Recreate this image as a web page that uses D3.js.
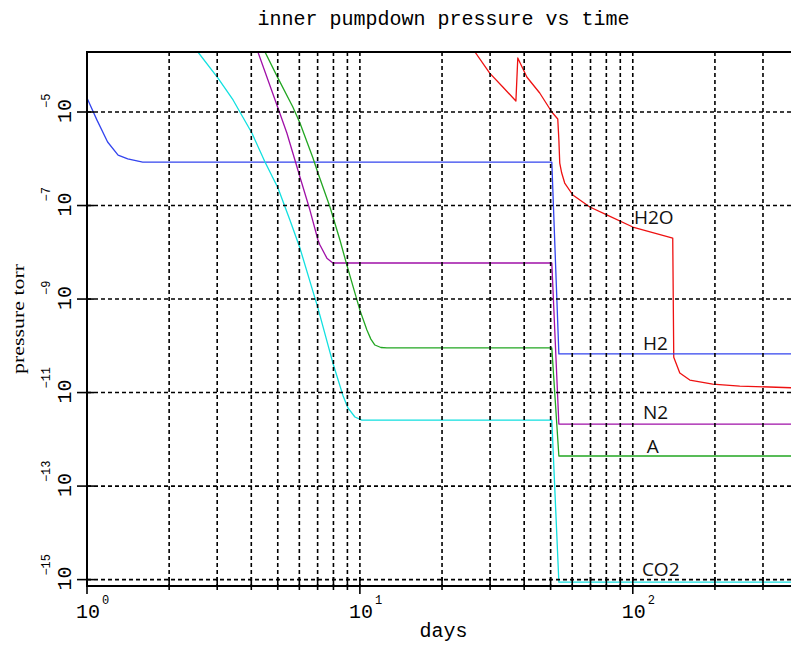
<!DOCTYPE html>
<html>
<head>
<meta charset="utf-8">
<script src="https://cdn.jsdelivr.net/npm/d3@7"></script>
<style>
  body { margin: 0; background: #fff; }
  svg { display: block; }
</style>
</head>
<body>
<script>
// readings: days and pressure (torr)
let daysH2O = [26.4, 29.9, 33.4, 37.3, 37.9, 40.9, 45.6, 50.5, 53.1, 53.6, 54.0, 54.9, 56.3, 60.3, 69.6, 80.3, 100, 140.1, 141.3, 148.7, 161.8, 196.3, 246.6, 410];
let pH2O = [1.92e-4, 6.8e-5, 3.43e-5, 1.72e-5, 1.43e-4, 5.6e-5, 2.55e-5, 1.0e-5, 7.1e-6, 2.52e-6, 8.1e-7, 4.95e-7, 3.03e-7, 1.68e-7, 9.3e-8, 6.3e-8, 3.47e-8, 2.02e-8, 5.7e-11, 2.61e-11, 1.85e-11, 1.52e-11, 1.38e-11, 1.25e-11];

let daysH2 = [1.0, 1.088, 1.19, 1.30, 1.41, 1.60, 50.5, 53.6, 410];
let pH2 = [2.0e-5, 6.7e-6, 2.28e-6, 1.20e-6, 9.9e-7, 8.5e-7, 8.5e-7, 6.7e-11, 6.7e-11];

let daysN2 = [4.23, 5.01, 5.40, 5.78, 6.03, 6.56, 7.02, 7.14, 7.57, 7.96, 8.96, 50.5, 53.6, 410];
let pN2 = [1.92e-4, 1.22e-5, 3.55e-6, 9.4e-7, 4.07e-7, 8.0e-8, 1.83e-8, 1.43e-8, 7.5e-9, 5.9e-9, 5.9e-9, 5.9e-9, 2.12e-12, 2.12e-12];

let daysA = [4.49, 5.01, 5.68, 6.03, 6.73, 7.02, 7.77, 8.45, 8.96, 10.0, 10.61, 10.97, 11.35, 11.94, 12.56, 50.5, 53.6, 410];
let pA = [1.92e-4, 5.3e-5, 1.28e-5, 5.8e-6, 1.04e-6, 4.95e-7, 9.3e-8, 1.83e-8, 5.3e-9, 5.8e-10, 2.17e-10, 1.39e-10, 1.04e-10, 9.2e-11, 9.0e-11, 9.0e-11, 4.4e-13, 4.4e-13];

let daysCO2 = [2.55, 3.02, 3.43, 4.02, 4.49, 5.01, 5.54, 6.03, 7.02, 7.96, 8.66, 9.04, 9.59, 10.17, 50.5, 53.6, 410];
let pCO2 = [1.92e-4, 5.3e-5, 1.81e-5, 3.55e-6, 8.5e-7, 2.37e-7, 4.9e-8, 1.23e-8, 6.4e-10, 4.3e-11, 8.8e-12, 4.7e-12, 3.0e-12, 2.58e-12, 2.58e-12, 8.8e-16, 8.8e-16];

let gasNames = ["H2O", "H2", "N2", "A", "CO2"];
let labelDays = [101, 109, 109, 112.5, 108];
let labelP = [4.0e-8, 8.1e-11, 2.71e-12, 5.1e-13, 1.19e-15];

let xMajor = [1, 10, 100];
let xGrid = [2, 3, 4, 5, 6, 7, 8, 9, 10, 20, 30, 40, 50, 60, 70, 80, 90, 100, 200, 300];
let yMajor = [1e-5, 1e-7, 1e-9, 1e-11, 1e-13, 1e-15];
let yExp = ["\u22125", "\u22127", "\u22129", "\u221211", "\u221213", "\u221215"];

let gasColors = ["#ee1111", "#3344ee", "#a010a8", "#22a622", "#11e0e0"];
let allDays = [daysH2O, daysH2, daysN2, daysA, daysCO2];
let allP = [pH2O, pH2, pN2, pA, pCO2];

let W = 791, H = 648;
let pLeft = 87, pRight = 800, pTop = 52, pBottom = 586;

let svg = d3.select("body")
            .append("svg")
            .attr("width", W)
            .attr("height", H);

let x = d3.scaleLog().domain([1, 410]).range([pLeft, pRight]);
let y = d3.scaleLog().domain([7.3e-16, 1.92e-4]).range([pBottom, pTop]);

svg.append("clipPath").attr("id", "plotclip")
   .append("rect")
   .attr("x", pLeft).attr("y", pTop)
   .attr("width", pRight - pLeft).attr("height", pBottom - pTop);

// curves
let line = d3.line().x(d => x(d[0])).y(d => y(d[1]));
let curves = svg.append("g").attr("clip-path", "url(#plotclip)");
allDays.forEach(function(ds, i) {
    let pts = ds.map((d, j) => [d, allP[i][j]]);
    curves.append("path")
          .attr("d", line(pts))
          .attr("fill", "none")
          .attr("stroke", gasColors[i])
          .attr("stroke-width", 1.3)
          .attr("stroke-linejoin", "round");
});

// dashed grid
let grid = svg.append("g")
              .attr("stroke", "#000")
              .attr("stroke-width", 1.6)
              .attr("stroke-dasharray", "4,3");
grid.selectAll("line.v")
    .data(xGrid)
    .enter()
    .append("line")
    .attr("x1", d => x(d)).attr("x2", d => x(d))
    .attr("y1", pTop).attr("y2", pBottom);
grid.selectAll("line.h")
    .data(yMajor)
    .enter()
    .append("line")
    .attr("x1", pLeft).attr("x2", pRight)
    .attr("y1", d => y(d)).attr("y2", d => y(d));

// frame
svg.append("path")
   .attr("d", `M${pRight},${pTop}H${pLeft}V${pBottom}H${pRight}`)
   .attr("fill", "none")
   .attr("stroke", "#000")
   .attr("stroke-width", 2);

// ticks
let ticks = svg.append("g").attr("stroke", "#000").attr("stroke-width", 1.6);
ticks.selectAll("line.xt")
     .data(xGrid.concat([1]))
     .enter()
     .append("line")
     .attr("x1", d => x(d)).attr("x2", d => x(d))
     .attr("y1", pBottom - 9)
     .attr("y2", d => xMajor.includes(d) ? pBottom + 8 : pBottom + 4);
ticks.selectAll("line.yt")
     .data(yMajor)
     .enter()
     .append("line")
     .attr("x1", pLeft - 10).attr("x2", pLeft + 7)
     .attr("y1", d => y(d)).attr("y2", d => y(d));

let mono = "'Liberation Mono', 'DejaVu Sans Mono', monospace";

// x tick labels
xMajor.forEach(function(d, i) {
    svg.append("text")
       .attr("x", x(d) - 11)
       .attr("y", 618)
       .attr("font-family", mono)
       .attr("font-size", 20)
       .attr("fill", "#000")
       .text("10");
    svg.append("text")
       .attr("x", x(d) + 15)
       .attr("y", 604)
       .attr("font-family", mono)
       .attr("font-size", 12)
       .attr("fill", "#000")
       .text(String(i));
});

// y tick labels (rotated)
yMajor.forEach(function(d, i) {
    let g = svg.append("g")
               .attr("transform", `translate(71,${y(d)}) rotate(-90)`);
    g.append("text")
     .attr("x", -11).attr("y", 0)
     .attr("font-family", mono)
     .attr("font-size", 20)
     .attr("fill", "#000")
     .text("10");
    g.append("text")
     .attr("x", 4).attr("y", -21)
     .attr("font-family", mono)
     .attr("font-size", 12)
     .attr("fill", "#000")
     .text(yExp[i]);
});

// titles
svg.append("text")
   .attr("x", (pLeft + pRight) / 2)
   .attr("y", 25)
   .attr("text-anchor", "middle")
   .attr("font-family", mono)
   .attr("font-size", 20)
   .attr("fill", "#000")
   .text("inner pumpdown pressure vs time");

svg.append("text")
   .attr("x", (pLeft + pRight) / 2)
   .attr("y", 637)
   .attr("text-anchor", "middle")
   .attr("font-family", mono)
   .attr("font-size", 20)
   .attr("fill", "#000")
   .text("days");

svg.append("text")
   .attr("transform", `translate(24,${(pTop + pBottom) / 2}) rotate(-90)`)
   .attr("text-anchor", "middle")
   .attr("font-family", "'Liberation Serif', serif")
   .attr("font-size", 17)
   .attr("textLength", 110)
   .attr("lengthAdjust", "spacingAndGlyphs")
   .attr("fill", "#000")
   .text("pressure torr");

// gas labels
svg.selectAll("text.gas")
   .data(gasNames)
   .enter()
   .append("text")
   .attr("x", (d, i) => x(labelDays[i]))
   .attr("y", (d, i) => y(labelP[i]))
   .attr("font-family", "'Open Sans', sans-serif")
   .attr("font-size", 19)
   .attr("fill", "#111")
   .text(d => d);
</script>
</body>
</html>
